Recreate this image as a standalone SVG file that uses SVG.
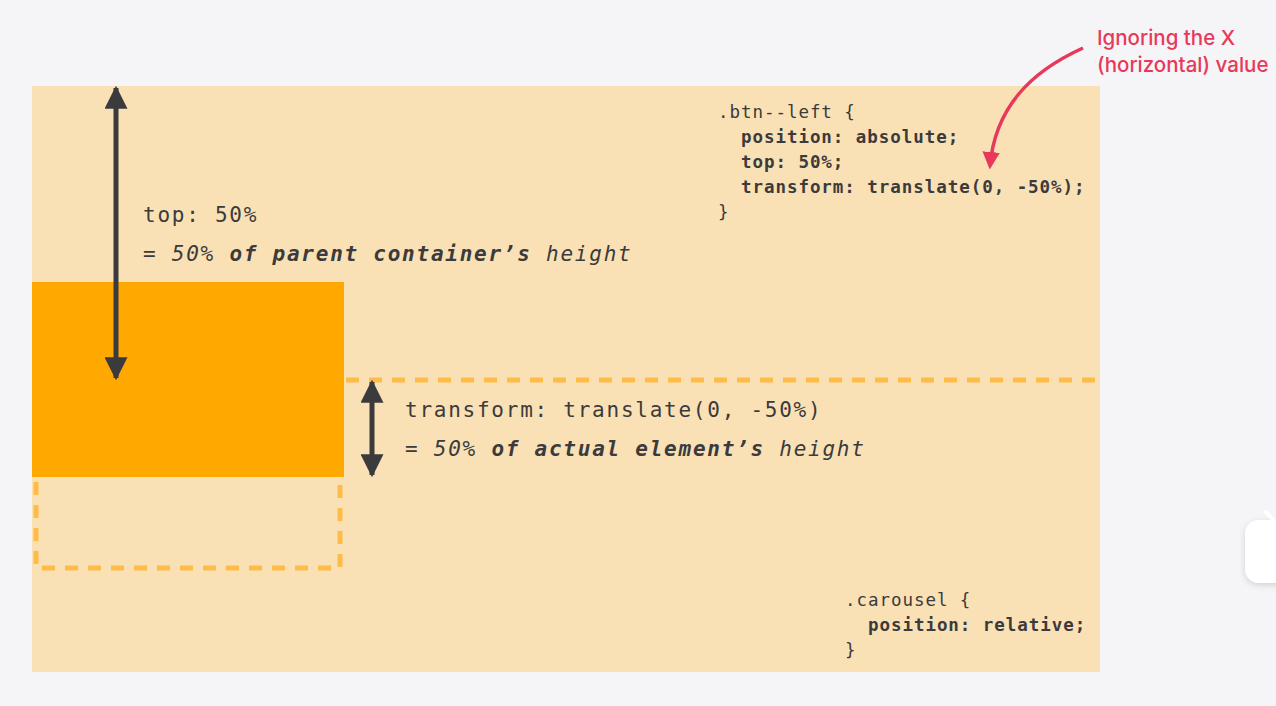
<svg xmlns="http://www.w3.org/2000/svg" width="1276" height="706" viewBox="0 0 1276 706">
  <defs>
    <marker id="dark-head" viewBox="0 0 10 10" refX="9" refY="5" markerWidth="4.6" markerHeight="4.6" orient="auto-start-reverse" markerUnits="strokeWidth">
      <path d="M0,0 L10,5 L0,10 Z" fill="#3b3a3c"/>
    </marker>
    <marker id="red-head" viewBox="0 0 10 10" refX="8" refY="5" markerWidth="5" markerHeight="5" orient="auto" markerUnits="strokeWidth">
      <path d="M0,0 L10,5 L0,10 Z" fill="#e8395a"/>
    </marker>
    <filter id="shadow" x="-50%" y="-50%" width="200%" height="200%">
      <feDropShadow dx="0" dy="2" stdDeviation="3" flood-color="#000" flood-opacity="0.15"/>
    </filter>
  </defs>
  <style>
    .mono { font-family: "DejaVu Sans Mono", "Liberation Mono", monospace; fill: #3b3a3c; }
    .big { font-size: 21px; letter-spacing: 1.75px; }
    .code { font-size: 17.5px; letter-spacing: 0.95px; }
    .b { font-weight: bold; }
    .i { font-style: italic; }
    .note { font-family: Inter, "Noto Sans", "Liberation Sans", sans-serif; font-size: 20.5px; font-weight: 500; fill: #e8395a; }
    .dash { fill: none; stroke: #ffbb48; stroke-width: 5; stroke-dasharray: 13 10; }
    .arrow { fill: none; stroke: #3b3a3c; stroke-width: 5; }
  </style>

  <rect x="0" y="0" width="1276" height="706" fill="#f5f4f7"/>

  <g id="carousel">
    <rect x="32" y="86" width="1068" height="586" fill="#f9e1b5"/>
  </g>

  <g id="dashed-box">
    <path class="dash" d="M36,482 V568 H340 V482"/>
  </g>

  <g id="button">
    <rect x="32" y="282" width="312" height="195" fill="#ffa800"/>
  </g>

  <g id="midline">
    <path class="dash" d="M346,380 H1100"/>
  </g>

  <g id="connectors">
    <line class="arrow" x1="116" y1="378" x2="116" y2="88" marker-start="url(#dark-head)" marker-end="url(#dark-head)"/>
    <line class="arrow" x1="372" y1="475" x2="372" y2="382" marker-start="url(#dark-head)" marker-end="url(#dark-head)"/>
    <path d="M1083,48 C1030,72 995,108 990,166" fill="none" stroke="#e8395a" stroke-width="3.5" marker-end="url(#red-head)"/>
  </g>

  <g id="top-label">
    <text class="mono big" x="143" y="222">top: 50%</text>
    <text class="mono big" x="143" y="261">= <tspan class="i">50%</tspan> <tspan class="b i">of parent container’s</tspan> <tspan class="i">height</tspan></text>
  </g>

  <g id="transform-label">
    <text class="mono big" x="405" y="417">transform: translate(0, -50%)</text>
    <text class="mono big" x="405" y="456">= <tspan class="i">50%</tspan> <tspan class="b i">of actual element’s</tspan> <tspan class="i">height</tspan></text>
  </g>

  <g id="btn-code">
    <text class="mono code" x="718" y="118">.btn--left {</text>
    <text class="mono code b" x="718" y="143" xml:space="preserve">  position: absolute;</text>
    <text class="mono code b" x="718" y="168" xml:space="preserve">  top: 50%;</text>
    <text class="mono code b" x="718" y="193" xml:space="preserve">  transform: translate(0, -50%);</text>
    <text class="mono code" x="718" y="218">}</text>
  </g>

  <g id="carousel-code">
    <text class="mono code" x="845" y="606">.carousel {</text>
    <text class="mono code b" x="845" y="631" xml:space="preserve">  position: relative;</text>
    <text class="mono code" x="845" y="656">}</text>
  </g>

  <g id="note">
    <text class="note" x="1097" y="45">Ignoring the X</text>
    <text class="note" x="1097" y="72">(horizontal) value</text>
  </g>

  <g id="corner-widget">
    <rect x="1245" y="520" width="60" height="63" rx="14" fill="#ffffff" filter="url(#shadow)"/>
    <path d="M1266,512 L1274,520" stroke="#ffffff" stroke-width="4" stroke-linecap="round"/>
  </g>
</svg>
